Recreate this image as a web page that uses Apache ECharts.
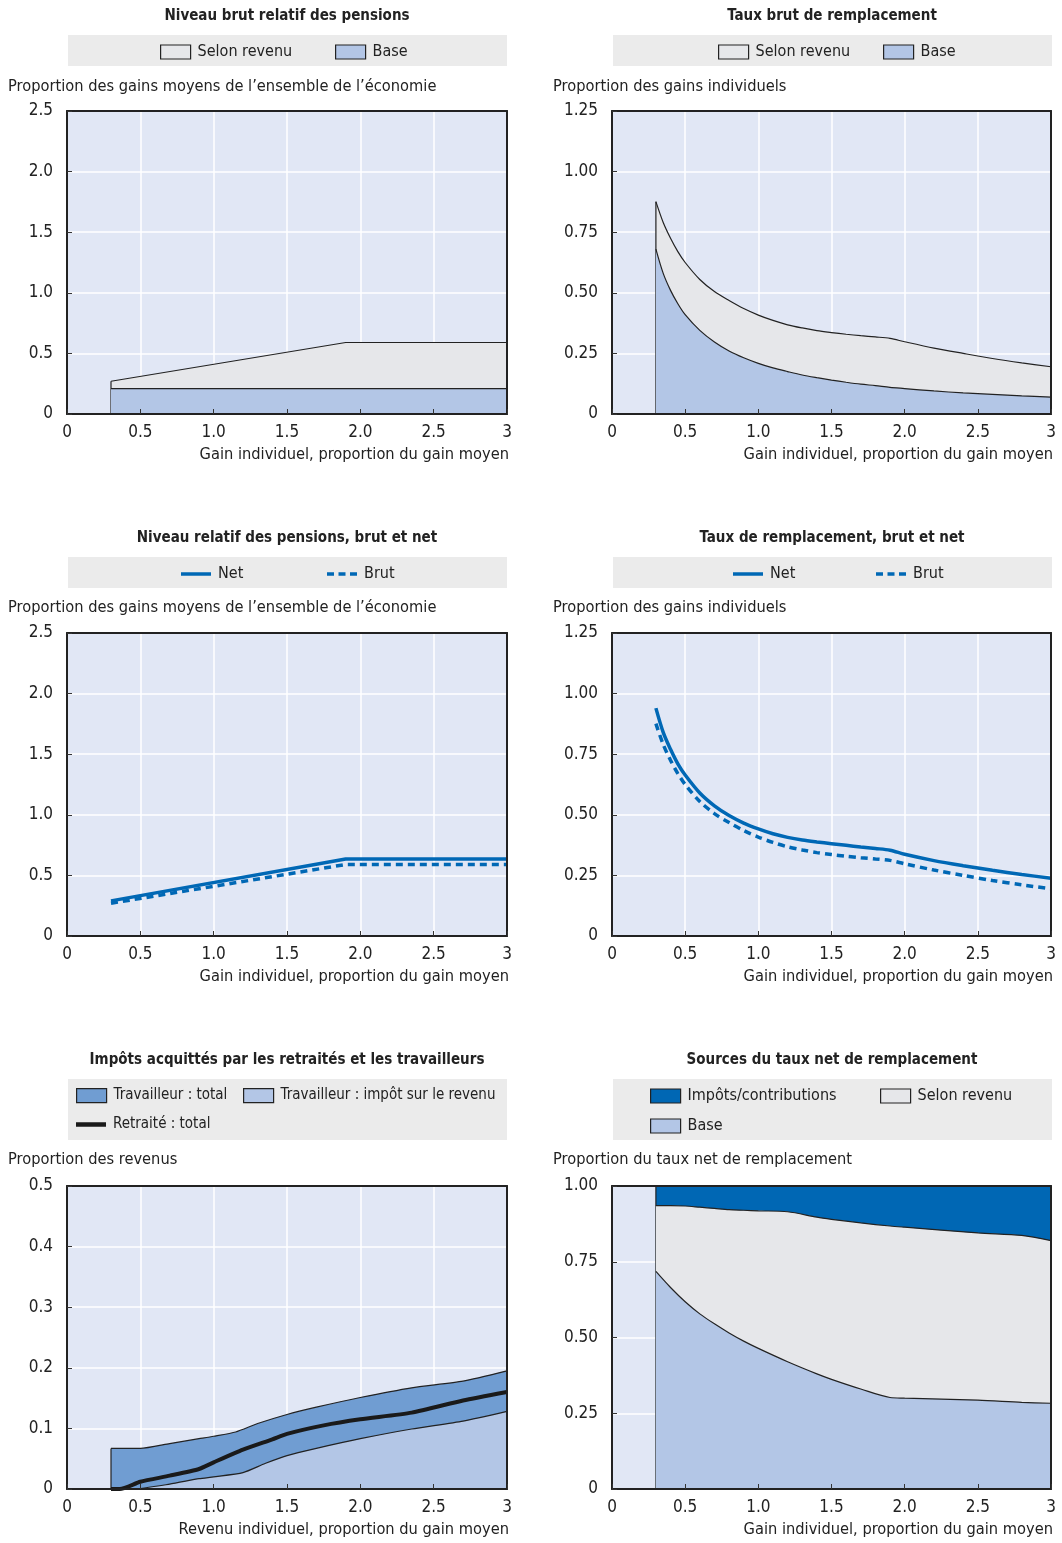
<!DOCTYPE html>
<html>
<head>
<meta charset="utf-8">
<script src="https://cdn.jsdelivr.net/npm/echarts@6/dist/echarts.min.js"></script>
<style>
html,body{margin:0;padding:0;background:#fff;}
#c{width:1062px;height:1543px;}
</style>
</head>
<body>
<div id="c"></div>
<script>
// ---------- DATA ----------
const xTickLabels = ['0','0.5','1.0','1.5','2.0','2.5','3'];
const yTicksLevel = ['0','0.5','1.0','1.5','2.0','2.5'];
const yTicksRate = ['0','0.25','0.50','0.75','1.00','1.25'];
const yTicksTax = ['0','0.1','0.2','0.3','0.4','0.5'];

// Panel 1 & 3 : relative pension levels
const levelX = [0.3, 1.9, 3.0];
const grossLevelTotal = [0.27, 0.59, 0.59];
const grossLevelBase = [0.21, 0.21, 0.21];
const netLevel = [0.29, 0.635, 0.635];
const grossLevel = [0.27, 0.59, 0.59];

// Panel 2 & 4 : replacement rates
const rateX = [0.3,0.35,0.4,0.45,0.5,0.6,0.7,0.8,0.9,1.0,1.1,1.2,1.3,1.4,1.5,1.6,1.7,1.8,1.9,2.0,2.2,2.4,2.6,2.8,3.0];
const grossRateTotal = [0.876,0.79,0.725,0.67,0.625,0.555,0.505,0.468,0.435,0.408,0.386,0.368,0.355,0.344,0.336,0.329,0.323,0.318,0.312,0.298,0.272,0.25,0.229,0.211,0.195];
const grossRateBase = [0.68,0.58,0.51,0.455,0.41,0.345,0.297,0.26,0.232,0.209,0.19,0.175,0.161,0.15,0.14,0.131,0.123,0.117,0.11,0.105,0.095,0.087,0.081,0.075,0.07];
const netRate = [0.94,0.84,0.77,0.71,0.664,0.59,0.537,0.497,0.466,0.442,0.422,0.407,0.396,0.388,0.381,0.374,0.367,0.361,0.354,0.337,0.311,0.29,0.271,0.254,0.238];
const grossRate = [0.876,0.79,0.725,0.67,0.625,0.555,0.505,0.468,0.435,0.408,0.386,0.368,0.355,0.344,0.336,0.329,0.323,0.318,0.312,0.298,0.272,0.25,0.229,0.211,0.195];

// Panel 5 : taxes
const workerTotalX = [0.3,0.5,0.7,0.9,1.0,1.15,1.3,1.5,1.7,2.0,2.35,2.7,3.0];
const workerTotal = [0.067,0.067,0.075,0.083,0.087,0.094,0.108,0.123,0.135,0.151,0.167,0.178,0.195];
const workerIncomeX = [0.3,0.45,0.7,0.9,1.0,1.2,1.35,1.5,1.7,2.0,2.35,2.7,3.0];
const workerIncome = [0,0,0.008,0.017,0.020,0.027,0.042,0.055,0.067,0.083,0.099,0.112,0.128];
const retireeX = [0.3,0.36,0.5,0.7,0.9,1.0,1.2,1.4,1.5,1.75,2.0,2.35,2.7,3.0];
const retireeTotal = [0,0,0.012,0.022,0.033,0.044,0.065,0.082,0.091,0.105,0.115,0.126,0.146,0.16];

// Panel 6 : sources of net replacement rate (cumulative tops)
const srcX = [0.3,0.4,0.5,0.6,0.7,0.8,0.9,1.0,1.2,1.4,1.5,1.7,1.9,2.0,2.5,2.8,3.0];
const srcTaxTop = [1,1,1,1,1,1,1,1,1,1,1,1,1,1,1,1,1];
const srcEarnTop = [0.935,0.935,0.934,0.93,0.926,0.922,0.92,0.918,0.915,0.897,0.89,0.878,0.868,0.864,0.845,0.837,0.82];
const srcBase = [0.718,0.665,0.618,0.578,0.545,0.515,0.488,0.464,0.42,0.38,0.362,0.33,0.302,0.300,0.293,0.286,0.283];

// ---------- STYLE ----------
const FONT = '"Liberation Sans Narrow", "DejaVu Sans Condensed", "Arial Narrow", sans-serif';
const C_BG = '#e1e7f5', C_GRAY = '#e6e7ea', C_BASE = '#b3c6e6', C_DARK = '#0067b4',
      C_TAXT = '#709dd2', C_LINE = '#0068b5', C_LEG = '#ebebeb', C_TXT = '#222';

const cols = [{l:67, w:440}, {l:612, w:439}];
const rows = [111, 633, 1186];
const H = 303;
const panels = [
  {col:0,row:0,ymax:2.5,yint:0.5,yt:yTicksLevel},
  {col:1,row:0,ymax:1.25,yint:0.25,yt:yTicksRate},
  {col:0,row:1,ymax:2.5,yint:0.5,yt:yTicksLevel},
  {col:1,row:1,ymax:1.25,yint:0.25,yt:yTicksRate},
  {col:0,row:2,ymax:0.5,yint:0.1,yt:yTicksTax},
  {col:1,row:2,ymax:1.0,yint:0.25,yt:yTicksRate}
];

const grid = [], xAxis = [], yAxis = [];
panels.forEach((p, gi) => {
  grid.push({left: cols[p.col].l, top: rows[p.row], width: cols[p.col].w, height: H,
    show: true, backgroundColor: C_BG, borderWidth: 0});
  const xb = {gridIndex: gi, type: 'value', min: 0, max: 3, interval: 0.5};
  xAxis.push(Object.assign({}, xb, {position:'bottom', z:0, axisLine:{show:false}, axisTick:{show:false}, axisLabel:{show:false},
    splitLine:{show:true, lineStyle:{color:'#ffffff', width:1.5}}}));
  xAxis.push(Object.assign({}, xb, {position:'bottom', z:5, axisLine:{show:true, onZero:false, lineStyle:{color:'#222', width:2}},
    axisTick:{show:true, inside:true, length:5, lineStyle:{color:'#333', width:1}},
    axisLabel:{show:true, margin:10, fontSize:17, color:C_TXT, fontFamily:FONT, formatter: v => xTickLabels[Math.round(v/0.5)]},
    splitLine:{show:false}}));
  xAxis.push(Object.assign({}, xb, {position:'top', z:5, axisLine:{show:true, onZero:false, lineStyle:{color:'#222', width:2}},
    axisTick:{show:false}, axisLabel:{show:false}, splitLine:{show:false}}));
  const yb = {gridIndex: gi, type: 'value', min: 0, max: p.ymax, interval: p.yint};
  yAxis.push(Object.assign({}, yb, {position:'left', z:0, axisLine:{show:false}, axisTick:{show:false}, axisLabel:{show:false},
    splitLine:{show:true, lineStyle:{color:'#ffffff', width:1.5}}}));
  yAxis.push(Object.assign({}, yb, {position:'left', z:5, axisLine:{show:true, onZero:false, lineStyle:{color:'#222', width:2}},
    axisTick:{show:true, inside:true, length:5, lineStyle:{color:'#333', width:1}},
    axisLabel:{show:true, margin:14, fontSize:17, color:C_TXT, fontFamily:FONT, formatter: v => p.yt[Math.round(v/p.yint)]},
    splitLine:{show:false}}));
  yAxis.push(Object.assign({}, yb, {position:'right', z:5, axisLine:{show:true, onZero:false, lineStyle:{color:'#222', width:2}},
    axisTick:{show:false}, axisLabel:{show:false}, splitLine:{show:false}}));
});

function pts(xs, ys) { return xs.map((x, i) => [x, ys[i]]); }
function area(name, gi, xs, ys, color, z, smooth) {
  return {type:'line', name, xAxisIndex: gi*3, yAxisIndex: gi*3, data: pts(xs, ys), symbol:'none', showSymbol:false,
    smooth: smooth || false,
    lineStyle:{color:'#222', width:1.2}, itemStyle:{color: color, borderColor:'#222'},
    areaStyle:{color, opacity:1}, z, silent:true, animation:false};
}
// vertical left edge of an area, from the axis up to the first value
function edge(gi, xs, ys, z) {
  return {type:'line', xAxisIndex: gi*3, yAxisIndex: gi*3, data: [[xs[0], 0], [xs[0], ys[0]]], symbol:'none',
    lineStyle:{color:'#222', width:1.2}, z, silent:true, animation:false, legendHoverLink:false};
}
function line(name, gi, xs, ys, color, width, type, z, smooth) {
  return {type:'line', name, xAxisIndex: gi*3, yAxisIndex: gi*3, data: pts(xs, ys), symbol:'none', showSymbol:false,
    smooth: smooth || false,
    lineStyle:{color, width, type}, itemStyle:{color}, z, silent:true, animation:false};
}

const series = [
  // panel 0
  area('Selon revenu', 0, levelX, grossLevelTotal, C_GRAY, 2),
  edge(0, levelX, grossLevelTotal, 2),
  area('Base', 0, levelX, grossLevelBase, C_BASE, 3),
  // panel 1
  area('Selon revenu', 1, rateX, grossRateTotal, C_GRAY, 2, 0.3),
  edge(1, rateX, grossRateTotal, 2),
  area('Base', 1, rateX, grossRateBase, C_BASE, 3, 0.3),
  // panel 2
  line('Net', 2, levelX, netLevel, C_LINE, 3.5, 'solid', 3),
  line('Brut', 2, levelX, grossLevel, C_LINE, 3.5, [7,5], 3),
  // panel 3
  line('Net', 3, rateX, netRate, C_LINE, 3.5, 'solid', 3, 0.3),
  line('Brut', 3, rateX, grossRate, C_LINE, 3.5, [7,5], 3, 0.3),
  // panel 4
  area('Travailleur : total', 4, workerTotalX, workerTotal, C_TAXT, 2, 0.2),
  edge(4, workerTotalX, workerTotal, 2),
  area('Travailleur : impôt sur le revenu', 4, workerIncomeX, workerIncome, C_BASE, 3, 0.2),
  line('Retraité : total', 4, retireeX, retireeTotal, '#1a1a1a', 4, 'solid', 4, 0.2),
  // panel 5
  area('Impôts/contributions', 5, srcX, srcTaxTop, C_DARK, 2),
  edge(5, srcX, srcTaxTop, 2),
  area('Selon revenu', 5, srcX, srcEarnTop, C_GRAY, 3, 0.3),
  area('Base', 5, srcX, srcBase, C_BASE, 4, 0.3)
];

const ICON_SOLID = 'path://M0,0H30V3.5H0Z';
const ICON_DASH = 'path://M0,0H7V3.5H0Z M11.5,0H18.5V3.5H11.5Z M23,0H30V3.5H23Z';
const ICON_THICK = 'path://M0,0H30V4.5H0Z';
function rectItem(name, color) {
  return {name, icon:'rect', itemStyle:{color, borderColor:'#222', borderWidth:1.2}};
}
function lineItem(name, icon, color) {
  return {name, icon, itemStyle:{color, borderWidth:0}};
}
function leg(item, x, yc, fs) {
  return {data:[item], left:x, top:yc-7, itemWidth:30, itemHeight:14, itemGap:0, padding:0,
    selectedMode:false, textStyle:{fontSize:fs || 16, color:C_TXT, fontFamily:FONT, padding:[0,0,0,2]}};
}
const legend = [
  leg(rectItem('Selon revenu', C_GRAY), 160, 51),
  leg(rectItem('Base', C_BASE), 335, 51),
  leg(rectItem('Selon revenu', C_GRAY), 718, 51),
  leg(rectItem('Base', C_BASE), 883, 51),
  leg(lineItem('Net', ICON_SOLID, C_LINE), 181, 573),
  leg(lineItem('Brut', ICON_DASH, C_LINE), 327, 573),
  leg(lineItem('Net', ICON_SOLID, C_LINE), 733, 573),
  leg(lineItem('Brut', ICON_DASH, C_LINE), 876, 573),
  leg(rectItem('Travailleur : total', C_TAXT), 76, 1095, 15),
  leg(rectItem('Travailleur : impôt sur le revenu', C_BASE), 243, 1095, 15),
  leg(lineItem('Retraité : total', ICON_THICK, '#1a1a1a'), 76, 1124, 15),
  leg(rectItem('Impôts/contributions', C_DARK), 650, 1095),
  leg(rectItem('Selon revenu', C_GRAY), 880, 1095),
  leg(rectItem('Base', C_BASE), 650, 1125)
];

const titles = [
  ['Niveau brut relatif des pensions', 287, 16],
  ['Taux brut de remplacement', 832, 16],
  ['Niveau relatif des pensions, brut et net', 287, 538],
  ['Taux de remplacement, brut et net', 832, 538],
  ['Impôts acquittés par les retraités et les travailleurs', 287, 1060],
  ['Sources du taux net de remplacement', 832, 1060]
];
const yNames = [
  ['Proportion des gains moyens de l\u2019ensemble de l\u2019\u00e9conomie', 8, 87],
  ['Proportion des gains individuels', 553, 87],
  ['Proportion des gains moyens de l\u2019ensemble de l\u2019\u00e9conomie', 8, 608],
  ['Proportion des gains individuels', 553, 608],
  ['Proportion des revenus', 8, 1160],
  ['Proportion du taux net de remplacement', 553, 1160]
];
const xNames = [
  ['Gain individuel, proportion du gain moyen', 509, 455],
  ['Gain individuel, proportion du gain moyen', 1053, 455],
  ['Gain individuel, proportion du gain moyen', 509, 977],
  ['Gain individuel, proportion du gain moyen', 1053, 977],
  ['Revenu individuel, proportion du gain moyen', 509, 1530],
  ['Gain individuel, proportion du gain moyen', 1053, 1530]
];
const legendBoxes = [
  [68, 35, 439, 31], [613, 35, 439, 31],
  [68, 557, 439, 31], [613, 557, 439, 31],
  [68, 1079, 439, 61], [613, 1079, 439, 61]
];

const graphic = [];
legendBoxes.forEach(b => graphic.push({type:'rect', z:-10, silent:true,
  shape:{x:b[0], y:b[1], width:b[2], height:b[3]}, style:{fill:C_LEG}}));
titles.forEach(t => graphic.push({type:'text', silent:true, style:{text:t[0], x:t[1], y:t[2],
  textAlign:'center', textVerticalAlign:'middle', font:'bold 15px ' + FONT, fill:C_TXT}}));
yNames.forEach(t => graphic.push({type:'text', silent:true, style:{text:t[0], x:t[1], y:t[2],
  textAlign:'left', textVerticalAlign:'middle', font:'16.3px ' + FONT, fill:C_TXT}}));
xNames.forEach(t => graphic.push({type:'text', silent:true, style:{text:t[0], x:t[1], y:t[2],
  textAlign:'right', textVerticalAlign:'middle', font:'16.3px ' + FONT, fill:C_TXT}}));

const chart = echarts.init(document.getElementById('c'), null, {renderer:'canvas'});
chart.setOption({
  animation:false,
  backgroundColor:'#ffffff',
  textStyle:{fontFamily:FONT},
  grid, xAxis, yAxis, series, legend, graphic
});
</script>
</body>
</html>
